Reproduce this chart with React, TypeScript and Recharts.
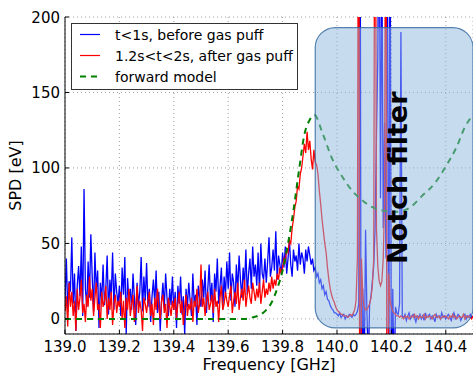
import { LineChart, Line, XAxis, YAxis, CartesianGrid, ReferenceArea, Legend } from "recharts";

const font = "DejaVu Sans";

// sampled every 5 MHz from 139.000 GHz
const freqStart = 139.0;
const freqStep = 0.005;

// t<1s, before gas puff (SPD in eV)
const beforePuff = [
  12, 40, 5, 25, 18, 54, 10, 30, -8, 22, 35, 15, 48, 2, 86, 20, 8, 38, 14, 56,
  28, 5, 44, 18, 32, -6, 24, 12, 36, 9, 20, 42, 3, 26, 15, 44, 6, 30, 18, 10,
  22, 2, 34, 16, 41, -10, 27, 12, 20, 6, 30, 14, -4, 24, 9, 18, 41, 5, 28, 12,
  37, 8, 20, -2, 15, 26, 10, 32, 4, 18, -8, 12, 24, 7, 30, 14, 2, 20, 9, 28,
  6, 18, -6, 22, 10, 28, 3, 15, -10, 20, 8, 24, 12, 2, 30, 10, 16, -4, 22, 14,
  8, 26, 14, 32, 4, 20, 36, 12, 24, -2, 30, 18, 40, 10, 22, 34, 6, 28, 16, 38,
  20, 44, 12, 30, 24, 8, 36, 18, 42, 26, 14, 34, 22, 46, 16, 30, 40, 20, 48, 28,
  36, 22, 44, 18, 50, 30, 26, 40, 24, 38, 54, 28, 34, 46, 32, 58, 26, 42, 36, 30,
  44, 34, 48, 30, 40, 52, 36, 28, 46, 38, 42, 32, 50, 36, 44, 40, 30, 46, 38, 48,
  42, 36, 40, 32, 34, 28, 30, 24, 26, 20, 22, 16, 18, 13, 12, 9, 7, 6, 4, 4,
  3, 2, 4, 1, 2, 3, 0, 2, 1, 3, 2, 1, 3, 2, 3, 5, 10, 300, -200, 20,
  -40, 59, 5, -30, 10, 15, 25, 35, 60, 120, 173, 300, 80, 240, 60, 130, 40, 300, -100, 300,
  -60, 20, -40, 8, 4, 3, 10, 190, 2, 1, 3, -1, 2, 4, 0, 2, 3, 1, -2, 2,
  1, 3, 0, 2, -1, 4, 1, 2, 3, 0, 2, 1, -2, 3, 1, 2, 0, 4, 1, 2,
  0, 2, 3, 1, -1, 2, 4, 0, 1, 3, 2, -1, 1, 2, 3, 0, 2, 1, 3, 1,
  2,
];

// 1.2s<t<2s, after gas puff
const afterPuff = [
  5, 15, -5, 24, 8, 18, 2, 12, -8, 20, 6, 14, 26, 4, 10, -2, 16, 8, 28, 12,
  20, 2, 14, 24, 6, 10, -6, 18, 8, 12, 22, 0, 14, 6, 18, -4, 10, 16, 4, 12,
  8, 18, 0, 12, -6, 14, 6, 20, 2, 10, 16, -2, 8, 22, 4, 12, 6, -8, 14, 10,
  4, 12, 18, 2, 10, -4, 14, 6, 20, 8, 0, 12, 16, 4, 10, -6, 14, 8, 2, 12,
  6, 14, 0, 10, 18, 4, 12, -4, 8, 16, 2, 10, 6, 14, -2, 12, 8, 20, 4, 10,
  36, 8, 14, 2, 12, 18, 6, 10, 16, 4, 20, 8, 12, -2, 14, 22, 6, 10, 18, 12,
  8, 16, 22, 4, 12, 18, 10, 24, 6, 14, 20, 12, 26, 8, 16, 22, 14, 10, 24, 18,
  12, 20, 14, 24, 10, 18, 26, 14, 20, 16, 24, 18, 28, 20, 26, 22, 30, 26, 34, 30,
  34, 40, 38, 46, 44, 52, 50, 60, 66, 74, 78, 88, 86, 96, 100, 108, 116, 110, 124, 112,
  118, 106, 99, 112, 104, 102, 96, 85, 76, 66, 58, 50, 44, 34, 26, 20, 16, 13, 11, 8,
  6, 5, 4, 3, 3, 2, 2, 2, 1, 2, 3, 2, 4, 6, 12, 40, 400, -300, 40, 15,
  8, 6, 6, 8, 10, 14, 22, 40, 400, 60, 35, 25, 22, 25, 40, 80, 400, -300, 30, 12,
  8, 5, 4, 3, 2, 2, 1, 2, 1, 0, 2, 1, 2, 0, 1, 2, 1, 3, 1, 2,
  0, 2, 1, 1, 3, 0, 2, 1, 2, 1, 0, 2, 3, 1, 1, 2, 0, 1, 2, 1,
  2, 1, 0, 2, 1, 3, 1, 2, 0, 1, 2, 1, 1, 3, 0, 2, 1, 2, 1, 0,
  2,
];

// forward model
const modelFreq = [139.0, 139.66, 139.69, 139.72, 139.74, 139.76, 139.78, 139.8, 139.82, 139.84, 139.86, 139.88, 139.9, 139.917, 139.947, 139.98, 140.02, 140.06, 140.09, 140.13, 140.16, 140.22, 140.27, 140.31, 140.36, 140.4, 140.44, 140.47, 140.5];
const modelValues = [0, 0, 1, 3, 6, 11, 20, 32, 50, 72, 98, 122, 132, 135, 123, 107, 94, 84, 79, 74, 72, 71, 74, 81, 90, 101, 114, 127, 135];

const xTicks = [139.0, 139.2, 139.4, 139.6, 139.8, 140.0, 140.2, 140.4];
const yTicks = [0, 50, 100, 150, 200];

const seriesNames = ["t<1s, before gas puff", "1.2s<t<2s, after gas puff", "forward model"];
const seriesColors = ["#0000ff", "#ff0000", "#008000"];

// notch filter band: x1, x2 (GHz), y1, y2 (eV)
const notchBand = [139.92, 140.5, -6, 193];

const beforeData = beforePuff.map((v, i) => ({ f: +(freqStart + i * freqStep).toFixed(3), v }));
const afterData = afterPuff.map((v, i) => ({ f: +(freqStart + i * freqStep).toFixed(3), v }));
const modelData = modelFreq.map((f, i) => ({ f, v: modelValues[i] }));

function BottomTick({ x, y, payload }: any) {
  return (
    <g>
      <line x1={x} x2={x} y1={y} y2={y - 4} stroke="#000" />
      <text x={x} y={y + 18} textAnchor="middle" fontSize={15} fill="#000" fontFamily={font}>
        {Number(payload.value).toFixed(1)}
      </text>
    </g>
  );
}

function TopTick({ x, y }: any) {
  return <line x1={x} x2={x} y1={y} y2={y + 4} stroke="#000" />;
}

function LeftTick({ x, y, payload }: any) {
  return (
    <g>
      <line x1={x} x2={x + 4} y1={y} y2={y} stroke="#000" />
      <text x={x - 5} y={y + 5.5} textAnchor="end" fontSize={15} fill="#000" fontFamily={font}>
        {payload.value}
      </text>
    </g>
  );
}

function XTitle({ viewBox }: any) {
  const { x, y, width } = viewBox;
  return (
    <text x={x + width / 2} y={y + 36} textAnchor="middle" fontSize={16} fill="#000" fontFamily={font}>
      Frequency [GHz]
    </text>
  );
}

function YTitle({ viewBox }: any) {
  const { y, height } = viewBox;
  const cx = 21;
  const cy = y + height / 2;
  return (
    <text transform={`translate(${cx}, ${cy}) rotate(-90)`} textAnchor="middle" fontSize={16} fill="#000" fontFamily={font}>
      SPD [eV]
    </text>
  );
}

function NotchShape(props: any) {
  const { x, y, width, height } = props;
  return (
    <g>
      <rect x={x} y={y} width={width} height={height} rx={20} ry={20}
        fill="#8fb8e0" fillOpacity={0.5} stroke="#2f659c" strokeOpacity={0.8} strokeWidth={1.2} />
      <text
        transform={`translate(${x + width / 2 + 3}, ${y + height / 2}) rotate(-90)`}
        textAnchor="middle" dominantBaseline="central"
        fontSize={27} fontWeight="bold" fill="#000" fontFamily={font}
      >
        Notch filter
      </text>
    </g>
  );
}

function LegendBox() {
  return (
    <svg width={227} height={67} style={{ display: "block" }}>
      <rect x={0.5} y={0.5} width={226} height={66} fill="#fff" stroke="#333" />
      {seriesNames.map((name, i) => (
        <g key={name}>
          <line x1={9} x2={29} y1={11.5 + i * 21} y2={11.5 + i * 21} stroke={seriesColors[i]}
            strokeWidth={i === 2 ? 2 : 1.2} strokeDasharray={i === 2 ? "6 5" : undefined} />
          <text x={44} y={16.5 + i * 21} fontSize={14} fill="#000" fontFamily={font}>{name}</text>
        </g>
      ))}
    </svg>
  );
}

export default function App() {
  return (
    <div style={{ position: "absolute", left: 0, top: 0, width: 473, height: 377, background: "#fff", fontFamily: font }}>
      <LineChart width={473} height={377} margin={{ top: 17, right: 0, bottom: 0, left: 0 }}>
        <CartesianGrid stroke="#888" strokeDasharray="1 3" strokeWidth={0.8} />
        <XAxis
          type="number" dataKey="f" domain={[139, 140.5]} ticks={xTicks} allowDataOverflow
          height={43} tickSize={0} tickMargin={0} tick={<BottomTick />}
          axisLine={{ stroke: "#000" }} tickLine={false}
          label={<XTitle />}
        />
        <XAxis
          xAxisId="top" orientation="top" type="number" dataKey="f" domain={[139, 140.5]} ticks={xTicks}
          allowDataOverflow height={0} tickSize={0} tickMargin={0} tick={<TopTick />}
          axisLine={{ stroke: "#000" }} tickLine={false}
        />
        <YAxis
          type="number" domain={[-10, 200]} ticks={yTicks} allowDataOverflow width={65}
          tickSize={0} tickMargin={0} tick={<LeftTick />} axisLine={{ stroke: "#000" }} tickLine={false}
          label={<YTitle />}
        />
        <Line data={beforeData} dataKey="v" type="linear" stroke={seriesColors[0]} strokeWidth={1.3}
          dot={false} activeDot={false} isAnimationActive={false} name={seriesNames[0]} />
        <Line data={afterData} dataKey="v" type="linear" stroke={seriesColors[1]} strokeWidth={1.3}
          dot={false} activeDot={false} isAnimationActive={false} name={seriesNames[1]} />
        <Line data={modelData} dataKey="v" type="monotone" stroke={seriesColors[2]} strokeWidth={2}
          strokeDasharray="6 5" dot={false} activeDot={false} isAnimationActive={false} name={seriesNames[2]} />
        <ReferenceArea
          x1={notchBand[0]} x2={notchBand[1]} y1={notchBand[2]} y2={notchBand[3]}
          ifOverflow="visible" shape={<NotchShape />} zIndex={450}
        />
        <Legend
          layout="horizontal" verticalAlign="middle" align="center"
          wrapperStyle={{ position: "absolute", left: 71, top: 23, width: 227, height: 67 }}
          content={() => <LegendBox />}
        />
      </LineChart>
    </div>
  );
}
